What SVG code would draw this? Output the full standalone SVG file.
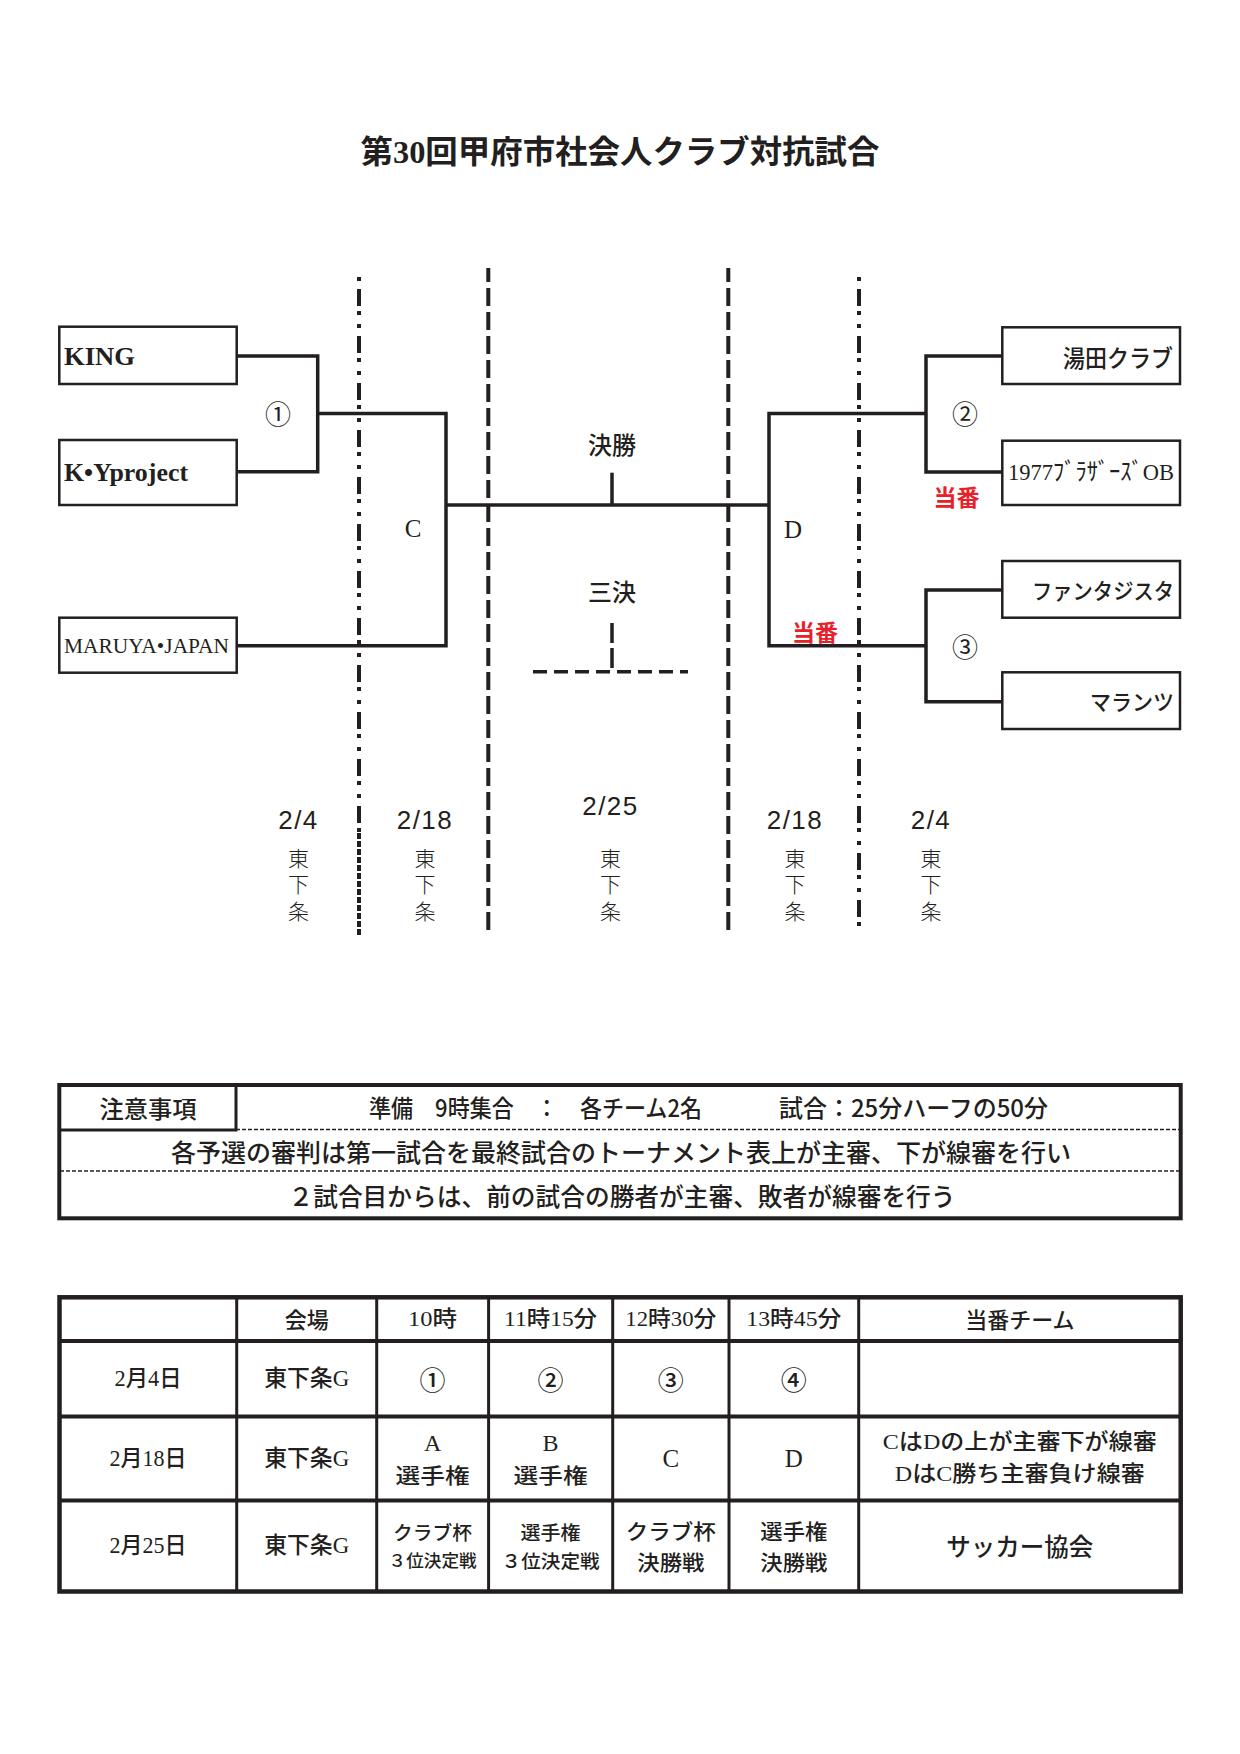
<svg xmlns="http://www.w3.org/2000/svg" width="1240" height="1754" viewBox="0 0 1240 1754">
<style>
.box{fill:#fff;stroke:#231f20;stroke-width:2.5}
.br{fill:none;stroke:#231f20;stroke-width:3.5}
.dd{stroke:#231f20;stroke-width:4;stroke-dasharray:17 5 4 9 4 8;fill:none}
.ds{stroke:#231f20;stroke-width:4;stroke-dasharray:18 6;fill:none}
.tb{fill:none;stroke:#231f20}
text{fill:#231f20;dominant-baseline:central}
.s{font-family:"Liberation Serif","Noto Sans CJK JP",serif}
.j{font-family:"Noto Sans CJK JP",sans-serif}
.n{font-family:"Liberation Sans Narrow","Liberation Sans",sans-serif;font-size:26px;letter-spacing:1.5px;text-anchor:middle}
.v{font-family:"Noto Sans CJK JP",sans-serif;font-size:21px;font-weight:300;writing-mode:vertical-rl;letter-spacing:5.5px}
.m{text-anchor:middle}
.e{text-anchor:end}
.b{font-weight:bold}
.red{fill:#e8202a;font-family:"Noto Sans CJK JP",sans-serif;font-weight:bold;font-size:23px;text-anchor:middle}
</style>

<text class="s b m" x="620" y="152" font-size="32" textLength="519" lengthAdjust="spacingAndGlyphs">第30回甲府市社会人クラブ対抗試合</text>

<g id="separators">
<line class="dd" x1="359" y1="268" x2="359" y2="833" stroke-dashoffset="26"/>
<line x1="359" y1="833" x2="359" y2="935" stroke="#231f20" stroke-width="4" stroke-dasharray="6 2"/>
<line class="ds" x1="488.3" y1="268" x2="488.3" y2="935" stroke-dashoffset="4"/>
<line class="ds" x1="728.3" y1="268" x2="728.3" y2="935" stroke-dashoffset="4"/>
<line class="dd" x1="859" y1="268" x2="859" y2="935" stroke-dashoffset="26"/>
</g>

<g id="connectors">
<polyline class="br" points="237,356 317.7,356 317.7,471.7 237,471.7"/>
<polyline class="br" points="317.7,413.5 446,413.5 446,645.7 237,645.7"/>
<line class="br" x1="446" y1="505" x2="769" y2="505"/>
<line class="br" x1="612" y1="472.7" x2="612" y2="505"/>
<polyline class="br" points="926,413.5 769,413.5 769,645.7 926,645.7"/>
<polyline class="br" points="1002,356 926,356 926,472 1002,472"/>
<polyline class="br" points="1002,590 926,590 926,701.7 1002,701.7"/>
<line class="br" x1="612" y1="623" x2="612" y2="668" stroke-dasharray="20 5"/>
<line class="br" x1="533" y1="671.7" x2="688" y2="671.7" stroke-dasharray="14 7"/>
</g>

<g id="team-king"><rect class="box" x="59.3" y="326.7" width="177.4" height="57.3"/><text class="s b" x="64" y="356" font-size="26" textLength="71" lengthAdjust="spacingAndGlyphs">KING</text></g>
<g id="team-ky"><rect class="box" x="59.3" y="440" width="177.4" height="65"/><text class="s b" x="64" y="472" font-size="25" textLength="124" lengthAdjust="spacingAndGlyphs">K•Yproject</text></g>
<g id="team-maruya"><rect class="box" x="59.3" y="617.7" width="177.4" height="55"/><text class="s" x="64" y="645.5" font-size="21" textLength="165" lengthAdjust="spacingAndGlyphs">MARUYA•JAPAN</text></g>
<g id="team-yuda"><rect class="box" x="1002.3" y="327.3" width="177.7" height="56.7"/><text class="j e" x="1173" y="356" font-size="24" font-weight="500" textLength="110" lengthAdjust="spacingAndGlyphs">湯田クラブ</text></g>
<g id="team-1977"><rect class="box" x="1002.3" y="440.7" width="177.7" height="64.3"/><text class="s" x="1008" y="472" font-size="24" textLength="166" lengthAdjust="spacingAndGlyphs">1977ﾌﾞﾗｻﾞｰｽﾞOB</text></g>
<g id="team-fanta"><rect class="box" x="1002.3" y="561" width="177.7" height="56.7"/><text class="j e" x="1174" y="589" font-size="22" font-weight="500" textLength="142" lengthAdjust="spacingAndGlyphs">ファンタジスタ</text></g>
<g id="team-marantz"><rect class="box" x="1002.3" y="672.3" width="177.7" height="56.7"/><text class="j e" x="1174" y="700" font-size="22" font-weight="500" textLength="84" lengthAdjust="spacingAndGlyphs">マランツ</text></g>

<g id="match-labels">
<text class="j m" x="278" y="412" font-size="26">①</text>
<text class="j m" x="965" y="412" font-size="26">②</text>
<text class="j m" x="965" y="645" font-size="26">③</text>
<text class="s m" x="413" y="528" font-size="25">C</text>
<text class="s m" x="793" y="529" font-size="25">D</text>
<text class="j m" x="612" y="443" font-size="24" font-weight="500">決勝</text>
<text class="j m" x="612" y="590" font-size="24" font-weight="500">三決</text>
<text class="red" x="956.5" y="496">当番</text>
<text class="red" x="815" y="631">当番</text>
</g>

<g id="dates">
<text class="n" x="298.5" y="820">2/4</text>
<text class="n" x="425" y="820">2/18</text>
<text class="n" x="610.5" y="806">2/25</text>
<text class="n" x="795" y="820">2/18</text>
<text class="n" x="931" y="820">2/4</text>
<text class="v" x="298.5" y="847.5">東下条</text>
<text class="v" x="425" y="847.5">東下条</text>
<text class="v" x="610.5" y="847.5">東下条</text>
<text class="v" x="795" y="847.5">東下条</text>
<text class="v" x="931" y="847.5">東下条</text>
</g>

<g id="notes">
<rect class="tb" x="59.3" y="1085" width="1121.4" height="133.3" stroke-width="4"/>
<polyline class="tb" points="59.3,1130 236,1130 236,1085" stroke-width="3"/>
<line class="tb" x1="236" y1="1129.5" x2="1180" y2="1129.5" stroke-width="1.5" stroke-dasharray="4 2"/>
<line class="tb" x1="60" y1="1171" x2="1180" y2="1171" stroke-width="1.5" stroke-dasharray="4 2"/>
<g class="j" font-weight="500">
<text class="m" x="148" y="1107" font-size="24" textLength="97" lengthAdjust="spacingAndGlyphs">注意事項</text>
<text x="369" y="1106" font-size="24" textLength="333" lengthAdjust="spacingAndGlyphs">準備　9時集合　：　各チーム2名</text>
<text x="779" y="1106" font-size="24" textLength="269" lengthAdjust="spacingAndGlyphs">試合：25分ハーフの50分</text>
<text class="m" x="621" y="1151" font-size="25" textLength="900" lengthAdjust="spacingAndGlyphs">各予選の審判は第一試合を最終試合のトーナメント表上が主審、下が線審を行い</text>
<text class="m" x="622" y="1195" font-size="25" textLength="667" lengthAdjust="spacingAndGlyphs">２試合目からは、前の試合の勝者が主審、敗者が線審を行う</text>
</g>
</g>

<g id="schedule">
<rect class="tb" x="59.5" y="1297.3" width="1121.2" height="294.2" stroke-width="4.5"/>
<g class="tb" stroke-width="4">
<line x1="59.5" y1="1341" x2="1180.7" y2="1341"/>
<line x1="59.5" y1="1416.5" x2="1180.7" y2="1416.5"/>
<line x1="59.5" y1="1500.5" x2="1180.7" y2="1500.5"/>
</g>
<g class="tb" stroke-width="3">
<line x1="236.7" y1="1297.3" x2="236.7" y2="1591.5"/>
<line x1="376.7" y1="1297.3" x2="376.7" y2="1591.5"/>
<line x1="488.6" y1="1297.3" x2="488.6" y2="1591.5"/>
<line x1="612.7" y1="1297.3" x2="612.7" y2="1591.5"/>
<line x1="729" y1="1297.3" x2="729" y2="1591.5"/>
<line x1="858.7" y1="1297.3" x2="858.7" y2="1591.5"/>
</g>
<g class="s m" font-weight="500">
<text x="306.7" y="1318" font-size="22" class="j">会場</text>
<text x="432.6" y="1318" font-size="22" textLength="49" lengthAdjust="spacingAndGlyphs">10時</text>
<text x="550.6" y="1318" font-size="22" textLength="93" lengthAdjust="spacingAndGlyphs">11時15分</text>
<text x="670.8" y="1318" font-size="22" textLength="91" lengthAdjust="spacingAndGlyphs">12時30分</text>
<text x="793.8" y="1318" font-size="22" textLength="95" lengthAdjust="spacingAndGlyphs">13時45分</text>
<text x="1019.8" y="1318" font-size="22" class="j">当番チーム</text>

<text x="148" y="1378" font-size="23" textLength="67" lengthAdjust="spacingAndGlyphs">2月4日</text>
<text x="306.7" y="1378" font-size="23" textLength="85" lengthAdjust="spacingAndGlyphs">東下条G</text>
<text x="432.6" y="1378" font-size="26" class="j">①</text>
<text x="550.6" y="1378" font-size="26" class="j">②</text>
<text x="670.8" y="1378" font-size="26" class="j">③</text>
<text x="793.8" y="1378" font-size="26" class="j">④</text>

<text x="148" y="1458" font-size="23" textLength="77" lengthAdjust="spacingAndGlyphs">2月18日</text>
<text x="306.7" y="1458" font-size="23" textLength="85" lengthAdjust="spacingAndGlyphs">東下条G</text>
<text x="432.6" y="1443" font-size="24">A</text>
<text x="432.6" y="1474" font-size="21" class="j" textLength="74" lengthAdjust="spacingAndGlyphs">選手権</text>
<text x="550.6" y="1443" font-size="24">B</text>
<text x="550.6" y="1474" font-size="21" class="j" textLength="74" lengthAdjust="spacingAndGlyphs">選手権</text>
<text x="670.8" y="1458" font-size="25">C</text>
<text x="793.8" y="1458" font-size="25">D</text>
<text x="1019.8" y="1442" font-size="21.5" textLength="274" lengthAdjust="spacingAndGlyphs">CはDの上が主審下が線審</text>
<text x="1019.8" y="1474" font-size="21.5" textLength="250" lengthAdjust="spacingAndGlyphs">DはC勝ち主審負け線審</text>

<text x="148" y="1545" font-size="23" textLength="77" lengthAdjust="spacingAndGlyphs">2月25日</text>
<text x="306.7" y="1545" font-size="23" textLength="85" lengthAdjust="spacingAndGlyphs">東下条G</text>
<text x="432.6" y="1531" font-size="19" class="j" textLength="79" lengthAdjust="spacingAndGlyphs">クラブ杯</text>
<text x="432.6" y="1559" font-size="17" class="j" textLength="88" lengthAdjust="spacingAndGlyphs">３位決定戦</text>
<text x="550.6" y="1531" font-size="19" class="j" textLength="60" lengthAdjust="spacingAndGlyphs">選手権</text>
<text x="550.6" y="1559.5" font-size="18.5" class="j" textLength="98" lengthAdjust="spacingAndGlyphs">３位決定戦</text>
<text x="670.8" y="1530" font-size="21" class="j" textLength="90" lengthAdjust="spacingAndGlyphs">クラブ杯</text>
<text x="670.8" y="1561" font-size="21" class="j" textLength="67" lengthAdjust="spacingAndGlyphs">決勝戦</text>
<text x="793.8" y="1530" font-size="21" class="j" textLength="67" lengthAdjust="spacingAndGlyphs">選手権</text>
<text x="793.8" y="1561" font-size="21" class="j" textLength="67" lengthAdjust="spacingAndGlyphs">決勝戦</text>
<text x="1019.8" y="1545" font-size="24.5" class="j">サッカー協会</text>
</g>
</g>
</svg>
